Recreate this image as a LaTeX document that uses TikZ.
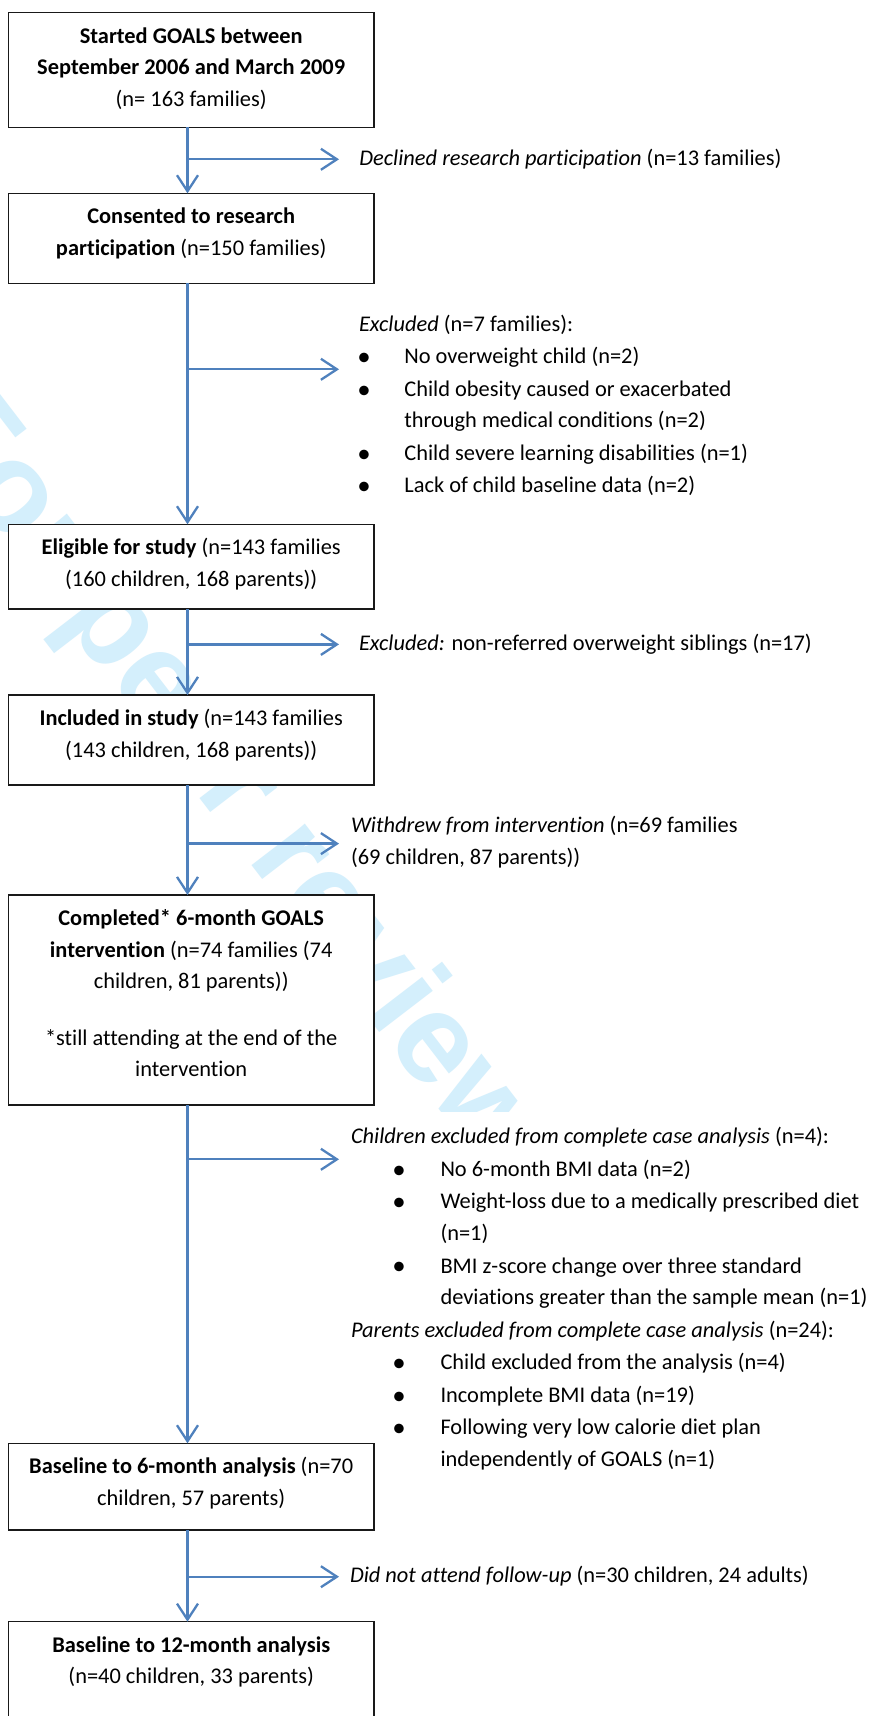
\documentclass[tikz,border=0pt]{standalone}
\usepackage{fontspec}
\setmainfont{Carlito}[Ligatures=NoCommon]
\newfontfamily\wmfont{Liberation Sans}
\usepackage{graphicx}
\usetikzlibrary{arrows.meta}
\definecolor{flowblue}{RGB}{79,129,189}
\definecolor{wmcyan}{RGB}{212,239,252}
\newcommand\bulletmark{\raisebox{-1.8pt}{\scalebox{1.2}{•}}}
% #1 bullet centre offset, #2 gap from bullet centre to text
\newcommand\bline[3]{\hspace*{#1}\makebox[0pt]{\bulletmark}\hspace*{#2}#3}
\newcommand\boxbody[2]{\parbox[c][#1][t]{349.2pt}{\centering\strut #2}}
\tikzset{
  basefont/.style={font=\fontsize{22.4}{31.5}\selectfont},
  flowbox/.style={basefont, draw=black!90, line width=1.4pt, fill=white,
    inner xsep=8pt, inner ysep=8.45pt, outer sep=0pt, anchor=north},
  sidetext/.style={basefont, fill=white, inner xsep=4pt, inner ysep=9.6pt,
    outer sep=0pt, anchor=base west},
  flowarrow/.style={draw=flowblue, line width=2.3pt,
    -{Straight Barb[length=16pt,width=21pt]}},
  watermark/.style={text=wmcyan, inner sep=0pt, rotate=-52.5,
    font=\wmfont\bfseries\fontsize{128}{128}\selectfont}
}
\begin{document}
\begin{tikzpicture}[x=1pt,y=-1pt]
\useasboundingbox (0,0) rectangle (870,1716);
\fill[white] (0,0) rectangle (870,1716);

% watermark
\node[watermark] (wm) at (318,898) {For peer review only};

% side texts
\node[sidetext] (declined) at (355.4,165.3)
  {\strut\textit{Declined research participation} (n=13 families)};
\node[sidetext] (excl1) at (355,331)
  {\parbox[t]{500pt}{\strut\textit{Excluded} (n=7 families):\\[1.1pt]
   \bline{5pt}{40.4pt}{No overweight child (n=2)}\\[1.1pt]
   \bline{5pt}{40.4pt}{Child obesity caused or exacerbated}\\
   \hspace*{45.4pt}through medical conditions (n=2)\\[1.1pt]
   \bline{5pt}{40.4pt}{Child severe learning disabilities (n=1)}\\[1.1pt]
   \bline{5pt}{40.4pt}{Lack of child baseline data (n=2)}}};
\node[sidetext] (excl2) at (355,650.3)
  {\strut\textit{Excluded:} non-referred overweight siblings (n=17)};
\node[sidetext] (withdrew) at (347,832)
  {\parbox[t]{500pt}{\strut\textit{Withdrew from intervention} (n=69 families\\[0.8pt]
   (69 children, 87 parents))}};
\node[sidetext] (caseexcl) at (347,1143.7)
  {\parbox[t]{519pt}{\strut\textit{Children excluded from complete case analysis} (n=4):\\[1.1pt]
   \bline{48pt}{41.5pt}{No 6-month BMI data (n=2)}\\[1.1pt]
   \bline{48pt}{41.5pt}{Weight-loss due to a medically prescribed diet}\\
   \hspace*{89.5pt}(n=1)\\[1.1pt]
   \bline{48pt}{41.5pt}{BMI z-score change over three standard}\\
   \hspace*{89.5pt}deviations greater than the sample mean (n=1)\\[1.1pt]
   \textit{Parents excluded from complete case analysis} (n=24):\\[1.1pt]
   \bline{48pt}{41.5pt}{Child excluded from the analysis (n=4)}\\[1.1pt]
   \bline{48pt}{41.5pt}{Incomplete BMI data (n=19)}\\[1.1pt]
   \bline{48pt}{41.5pt}{Following very low calorie diet plan}\\
   \hspace*{89.5pt}independently of GOALS (n=1)}};
\node[sidetext] (noattend) at (346,1582.7)
  {\strut\textit{Did not attend follow-up} (n=30 children, 24 adults)};

% boxes
\node[flowbox] (b1) at (191.2,12.7) {\boxbody{97.7pt}{\textbf{Started GOALS between}\\
  \textbf{September 2006 and March 2009}\\(n= 163 families)}};
\node[flowbox] (b2) at (191.2,193.3) {\boxbody{73.1pt}{\textbf{Consented to research}\\
  \textbf{participation} (n=150 families)}};
\node[flowbox] (b3) at (191.2,524.3) {\boxbody{67.8pt}{\textbf{Eligible for study} (n=143 families\\
  (160 children, 168 parents))}};
\node[flowbox] (b4) at (191.2,695) {\boxbody{73.1pt}{\textbf{Included in study} (n=143 families\\
  (143 children, 168 parents))}};
\node[flowbox] (b5) at (191.2,895) {\boxbody{193.1pt}{\textbf{Completed* 6-month GOALS}\\
  \textbf{intervention} (n=74 families (74\\children, 81 parents))\\[25.2pt]
  {*}still attending at the end of the\\intervention}};
\node[flowbox] (b6) at (191.2,1443.3) {\boxbody{69.8pt}{\textbf{Baseline to 6-month analysis} (n=70\\
  children, 57 parents)}};
\node[flowbox] (b7) at (191.2,1621.7) {\boxbody{121.1pt}{\textbf{Baseline to 12-month analysis}\\
  (n=40 children, 33 parents)}};

% trunk
\coordinate (tx) at (187.5,0);
\draw[flowarrow] (b1.south -| tx) -- (b2.north -| tx);
\draw[flowarrow] (b2.south -| tx) -- (b3.north -| tx);
\draw[flowarrow] (b3.south -| tx) -- (b4.north -| tx);
\draw[flowarrow] (b4.south -| tx) -- (b5.north -| tx);
\draw[flowarrow] (b5.south -| tx) -- (b6.north -| tx);
\draw[flowarrow] (b6.south -| tx) -- (b7.north -| tx);

% side arrows
\coordinate (j1) at (187.5,159.3);  \coordinate (e1) at (339,159.3);
\coordinate (j2) at (187.5,369.3);  \coordinate (e2) at (339,369.3);
\coordinate (j3) at (187.5,644.4);  \coordinate (e3) at (339,644.4);
\coordinate (j4) at (187.5,843.6);  \coordinate (e4) at (339,843.6);
\coordinate (j5) at (187.5,1159.3); \coordinate (e5) at (339,1159.3);
\coordinate (j6) at (187.5,1576.7); \coordinate (e6) at (339,1576.7);
\draw[flowarrow] (j1) -- (e1);
\draw[flowarrow] (j2) -- (e2);
\draw[flowarrow] (j3) -- (e3);
\draw[flowarrow] (j4) -- (e4);
\draw[flowarrow] (j5) -- (e5);
\draw[flowarrow] (j6) -- (e6);
\end{tikzpicture}
\end{document}
